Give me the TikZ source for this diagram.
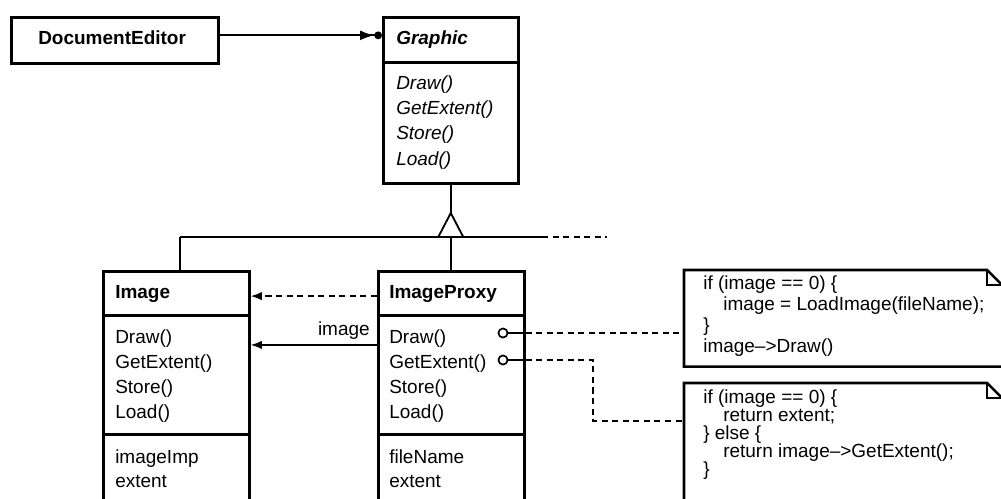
\documentclass[tikz,border=0pt]{standalone}
\usepackage{fontspec}
\setmainfont{Liberation Sans}
\usetikzlibrary{arrows.meta,positioning}

\begin{document}
\begin{tikzpicture}[x=0.025cm, y=-0.025cm,
  classbox/.style={draw, rectangle, line width=1.8pt, anchor=north west, inner sep=0pt},
  notebox/.style={rectangle, anchor=north west, inner sep=0pt},
  clsname/.style={anchor=base west, inner sep=0pt, font=\fontsize{13.5}{16}\selectfont\bfseries},
  opname/.style={anchor=base west, inner sep=0pt, font=\fontsize{13.5}{16}\selectfont},
  absop/.style={anchor=base west, inner sep=0pt, font=\fontsize{13.5}{16}\selectfont\itshape},
  conn/.style={line width=1.3pt},
  dashline/.style={conn, dash pattern=on 4.3pt off 3.2pt},
  lolly/.style={circle, draw, fill=white, line width=1.2pt, minimum size=6.5pt, inner sep=0pt}]
  % Setup
  \def\ix{102}  % Image column
  \def\px{377}  % ImageProxy column
  \useasboundingbox (0,0) rectangle (1001,499);

  % DocumentEditor
  \node[classbox, minimum width=5.175cm, minimum height=1.15cm] (docedit) at (10,16) {};
  \node[clsname] (detext) at (38,45) {DocumentEditor};

  % Graphic
  \node[classbox, minimum width=3.375cm, minimum height=1.125cm] (ghead) at (382,16) {};
  \node[classbox, minimum width=3.375cm, minimum height=3.025cm] (gops) at (382,61) {};
  \node[clsname, font=\fontsize{13.5}{16}\selectfont\bfseries\itshape] (gname) at (396,45) {Graphic};
  \foreach \m [count=\i from 0] in {Draw(),GetExtent(),Store(),Load()}
    \node[absop] (gop\i) at (396,90+25*\i) {\m};

  % Image
  \node[classbox, minimum width=3.65cm, minimum height=1.1cm] (ihead) at (\ix,270) {};
  \node[classbox, minimum width=3.65cm, minimum height=2.975cm] (iops) at (\ix,314) {};
  \node[classbox, minimum width=3.65cm, minimum height=2.1cm] (iattr) at (\ix,433) {};
  \node[clsname] (iname) at (\ix+13,298) {Image};
  \foreach \m [count=\i from 0] in {Draw(),GetExtent(),Store(),Load()}
    \node[opname] (iop\i) at (\ix+13,343+25*\i) {\m};
  \node[opname] (iattr0) at (\ix+13,463) {imageImp};
  \node[opname] (iattr1) at (\ix+13,487) {extent};

  % ImageProxy
  \node[classbox, minimum width=3.65cm, minimum height=1.1cm] (phead) at (\px,270) {};
  \node[classbox, minimum width=3.65cm, minimum height=2.975cm] (pops) at (\px,314) {};
  \node[classbox, minimum width=3.65cm, minimum height=2.1cm] (pattr) at (\px,433) {};
  \node[clsname] (pname) at (\px+12,298) {ImageProxy};
  \foreach \m [count=\i from 0] in {Draw(),GetExtent(),Store(),Load()}
    \node[opname] (pop\i) at (\px+12,343+25*\i) {\m};
  \node[opname] (pattr0) at (\px+12,463) {fileName};
  \node[opname] (pattr1) at (\px+12,487) {extent};

  % Notes
  \node[notebox, minimum width=7.95cm, minimum height=2.4cm] (note1) at (684,270) {};
  \node[notebox, minimum width=7.95cm, minimum height=3.4cm] (note2) at (684,383) {};
  \foreach \n in {note1,note2} {
    \draw[line width=1.8pt] (\n.south west) -- (\n.north west) -- ([xshift=-11pt]\n.north east)
      -- ([yshift=-11pt]\n.north east) -- (\n.south east) -- cycle;
    \draw[line width=1.4pt] ([xshift=-11pt]\n.north east) -- ([xshift=-11pt,yshift=-11pt]\n.north east)
      -- ([yshift=-11pt]\n.north east);
  }
  \foreach \x/\linetext [count=\i from 0] in {703/if (image == 0) \{,723/image = LoadImage(fileName);,703/\},703/image-->Draw()}
    \node[opname] (na\i) at (\x,289+21*\i) {\linetext};
  \foreach \x/\linetext [count=\i from 0] in {703/if (image == 0) \{,723/return extent;,703/\} else \{,723/return image-->GetExtent();,703/\}}
    \node[opname] (nb\i) at (\x,403+18*\i) {\linetext};

  % DocumentEditor -> Graphic
  \coordinate (deout) at ([yshift=3.5pt]docedit.east);
  \draw[conn, -{Latex[length=10pt,width=7pt] Circle[length=5.5pt]}] (deout) -- (deout -| ghead.west);

  % Inheritance
  \coordinate (apex) at (gops.south |- 0,213);
  \coordinate (junc) at (gops.south |- 0,237);
  \coordinate (lcorner) at (180,237);
  \coordinate (solidend) at (542,237);
  \coordinate (dashend) at (607,237);
  \draw[conn] (gops.south) -- (apex);
  \draw[conn, line join=miter] (apex) -- ++(-12.5,24) -- ++(25,0) -- cycle;
  \draw[conn] (lcorner) -- (solidend);
  \draw[dashline] (solidend) -- (dashend);
  \draw[conn] (lcorner) -- (lcorner |- ihead.north);
  \draw[conn] (junc) -- (junc |- phead.north);

  % ImageProxy -> Image
  \coordinate (depout) at ([yshift=-2pt]phead.west);
  \draw[dashline, -{Latex[length=8pt,width=6pt]}] (depout) -- (depout -| ihead.east);
  \coordinate (refout) at ([yshift=-22pt]pops.north west);
  \draw[conn, -{Latex[length=8pt,width=6pt]}] (refout) -- (refout -| iops.east);
  \node[opname, anchor=base east] (reflabel) at (370,335) {image};

  % Implementation notes
  \node[lolly] (pdrawdot) at (503,333) {};
  \node[lolly] (pextdot) at (503,360) {};
  \draw[conn] (pdrawdot) -- (pdrawdot -| pops.east);
  \draw[conn] (pextdot) -- (pextdot -| pops.east);
  \draw[dashline] (pdrawdot -| pops.east) -- (pdrawdot -| note1.west);
  \coordinate (n2in) at ([yshift=-27pt]note2.north west);
  \coordinate (bend) at (593,360);
  \draw[dashline] (pextdot -| pops.east) -- (bend) |- (n2in);
\end{tikzpicture}
\end{document}
